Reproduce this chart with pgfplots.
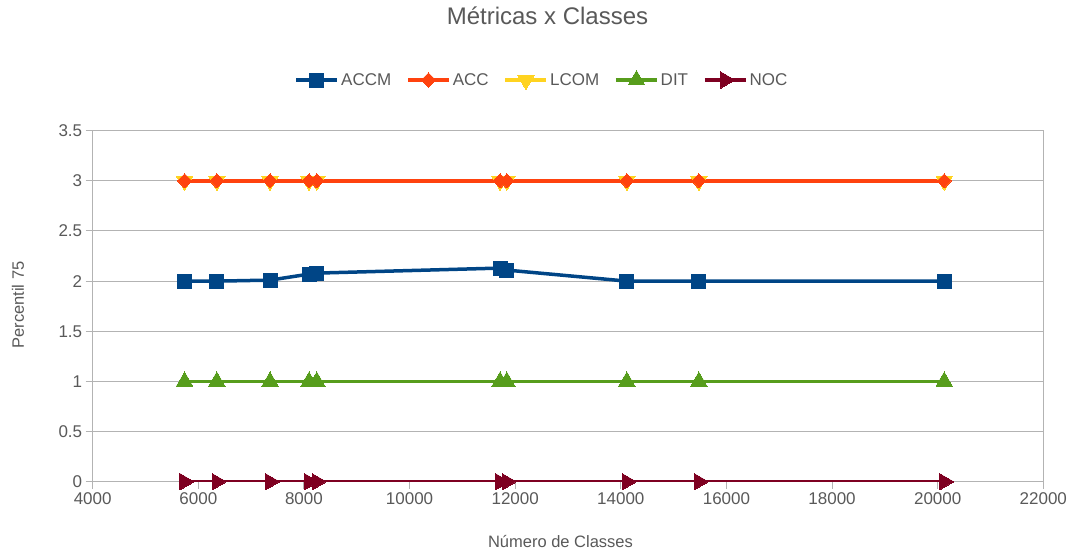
\documentclass[border=0pt]{standalone}
\usepackage{fontspec}
\setmainfont{Liberation Sans}
\usepackage{pgfplots}
\pgfplotsset{compat=1.18}
\definecolor{cACCM}{HTML}{004586}
\definecolor{cACC}{HTML}{FF420E}
\definecolor{cLCOM}{HTML}{FFD320}
\definecolor{cDIT}{HTML}{579D1C}
\definecolor{cNOC}{HTML}{7E0021}
\definecolor{txt}{HTML}{595959}
\definecolor{gridc}{HTML}{B3B3B3}
\begin{document}
\begin{tikzpicture}
\useasboundingbox (-92.7bp,-69.3bp) rectangle (981.3bp,481.7bp);
\begin{axis}[
  at={(0,0)}, anchor=south west,
  scale only axis,
  width=950.6bp, height=351bp,
  xmin=4000, xmax=22000, ymin=0, ymax=3.5,
  xtick={4000,6000,...,22000},
  ytick={0,0.5,...,3.5},
  scaled x ticks=false,
  /pgf/number format/assume math mode=true,
  /pgf/number format/set thousands separator={},
  xticklabel style={font=\fontsize{17bp}{20bp}\selectfont, text=txt},
  yticklabel style={font=\fontsize{17bp}{20bp}\selectfont, text=txt, /pgf/number format/fixed},
  tick align=outside,
  tick pos=left,
  major tick length=7bp,
  tick style={gridc, line width=1bp},
  ymajorgrids,
  grid style={gridc, line width=1bp},
  axis line style={gridc, line width=1bp},
  title={Métricas x Classes},
  title style={at={(0.4784,1.3097)}, anchor=center, font=\fontsize{24bp}{28bp}\selectfont, text=txt},
  xlabel={Número de Classes},
  xlabel style={at={(0.4921,-0.1718)}, anchor=center, font=\fontsize{16.5bp}{20bp}\selectfont, text=txt},
  ylabel={Percentil 75},
  ylabel style={at={(-0.0786,0.5034)}, anchor=center, rotate=0, font=\fontsize{16.5bp}{20bp}\selectfont, text=txt},
  legend columns=-1,
  legend style={at={(0.4727,1.1444)}, anchor=center, draw=none, fill=none,
    font=\fontsize{17bp}{20bp}\selectfont, text=txt,
    /tikz/every even column/.append style={column sep=13bp},
    /tikz/every odd column/.append style={column sep=0bp},
    inner sep=0pt},
  legend image code/.code={\draw[#1, mark repeat=2, mark phase=2] plot coordinates {(0bp,0bp) (20.5bp,0bp) (41bp,0bp)};},
  every axis plot/.append style={line width=3.5bp},
]
% LCOM drawn first (behind ACC)
\addplot[cLCOM, mark=triangle*, mark size=9.5bp, mark options={rotate=180, line width=0pt}, forget plot] coordinates {
(5740,3) (6350,3) (7358,3) (8097,3) (8243,3) (11714,3) (11841,3) (14114,3) (15478,3) (20124,3)};
\addplot[cACCM, mark=square*, mark size=7bp, mark options={line width=0pt}] coordinates {
(5740,2) (6350,2) (7358,2.01) (8097,2.07) (8243,2.08) (11714,2.13) (11841,2.11) (14114,2) (15478,2) (20124,2)};
\addlegendentry{ACCM}
\addplot[cACC, mark=square*, mark size=5bp, mark options={rotate=45, line width=0pt}] coordinates {
(5740,3) (6350,3) (7358,3) (8097,3) (8243,3) (11714,3) (11841,3) (14114,3) (15478,3) (20124,3)};
\addlegendentry{ACC}
\addlegendimage{cLCOM, line width=3.5bp, mark=triangle*, mark size=9.5bp, mark options={rotate=180, line width=0pt}}
\addlegendentry{LCOM}
\addplot[cDIT, mark=triangle*, mark size=9.5bp, mark options={line width=0pt}] coordinates {
(5740,1) (6350,1) (7358,1) (8097,1) (8243,1) (11714,1) (11841,1) (14114,1) (15478,1) (20124,1)};
\addlegendentry{DIT}
\addplot[cNOC, mark=triangle*, mark size=9.5bp, mark options={rotate=-90, line width=0pt}] coordinates {
(5740,0) (6350,0) (7358,0) (8097,0) (8243,0) (11714,0) (11841,0) (14114,0) (15478,0) (20124,0)};
\addlegendentry{NOC}
\end{axis}
\end{tikzpicture}
\end{document}
